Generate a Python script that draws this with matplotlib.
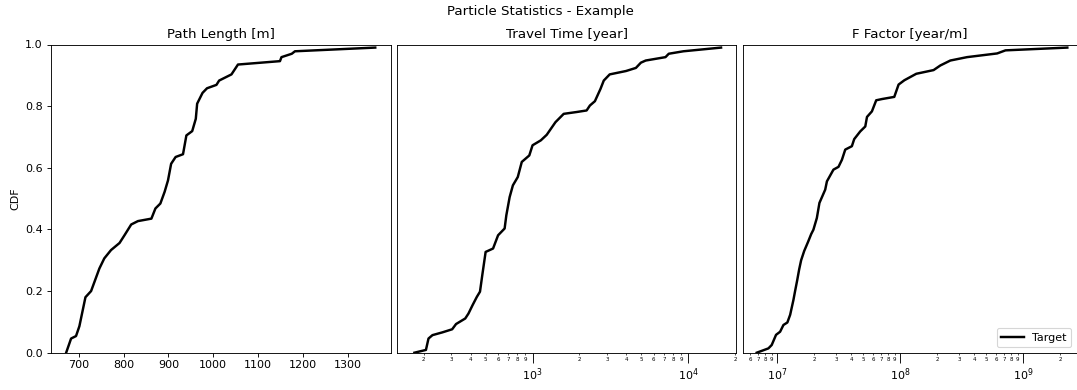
import matplotlib
matplotlib.use("Agg")
import matplotlib.pyplot as plt
from matplotlib.ticker import FuncFormatter, LogLocator
import numpy as np

# CDF curves
path_length = [672, 683, 694, 701.5, 715, 727.6, 746, 757, 772, 791,
               802, 817, 832, 862, 871, 882, 891.5, 899, 906, 916,
               932.5, 940, 953, 961, 964, 976, 986, 1007, 1013, 1040.5,
               1055, 1148.6, 1152, 1175, 1182, 1361]
path_cdf = [0, 0.046, 0.054, 0.086, 0.18, 0.20, 0.273, 0.306, 0.333, 0.356,
            0.381, 0.416, 0.427, 0.435, 0.468, 0.484, 0.522, 0.559, 0.613, 0.635,
            0.644, 0.705, 0.719, 0.759, 0.808, 0.843, 0.858, 0.869, 0.883, 0.903,
            0.935, 0.946, 0.959, 0.970, 0.978, 0.99]

travel_time = [174.6, 207, 215, 228, 264, 305, 323, 370, 388, 412,
               439, 460, 476, 500, 558, 601, 662, 679, 713, 748,
               804, 853, 953, 1000, 1130, 1233, 1403, 1585, 1923, 2223,
               2333, 2512, 2729, 2864, 3126, 3981, 4603, 4955, 5321, 7129,
               7482, 9290, 16200]
travel_cdf = [0, 0.009, 0.046, 0.057, 0.066, 0.076, 0.093, 0.111, 0.127, 0.154,
              0.181, 0.198, 0.252, 0.327, 0.338, 0.381, 0.403, 0.446, 0.505, 0.543,
              0.570, 0.619, 0.640, 0.673, 0.689, 0.707, 0.748, 0.775, 0.781, 0.786,
              0.802, 0.816, 0.856, 0.883, 0.903, 0.914, 0.924, 0.941, 0.948, 0.959,
              0.970, 0.978, 0.99]

f_factor = [6.79e6, 8.45e6, 8.99e6, 9.75e6, 1.052e7, 1.12e7, 1.205e7, 1.27e7, 1.35e7,
            1.393e7, 1.449e7, 1.503e7, 1.56e7, 1.652e7, 1.778e7, 1.884e7,
            1.963e7, 2.094e7, 2.198e7, 2.449e7, 2.529e7, 2.858e7, 3.141e7, 3.35e7, 3.565e7, 4.036e7,
            4.217e7, 4.721e7, 5.188e7, 5.358e7, 5.875e7, 6.368e7, 7.096e7, 8.933e7, 9.683e7, 1.079e8,
            1.349e8, 1.866e8, 2.118e8, 2.553e8, 3.491e8, 6.138e8, 7.178e8, 2.286e9]
f_cdf = [0, 0.014, 0.025, 0.058, 0.068, 0.09, 0.098, 0.123, 0.171,
         0.20, 0.235, 0.27, 0.30, 0.33, 0.36, 0.385,
         0.399, 0.437, 0.486, 0.529, 0.556, 0.594, 0.603, 0.626, 0.659, 0.670,
         0.693, 0.718, 0.734, 0.765, 0.783, 0.819, 0.823, 0.830, 0.870, 0.884,
         0.905, 0.917, 0.932, 0.948, 0.959, 0.971, 0.981, 0.99]

titles = ["Path Length [m]", "Travel Time [year]", "F Factor [year/m]"]

W, H, DPI = 1077, 390, 80
fig = plt.figure(figsize=(W / DPI, H / DPI), dpi=DPI)

bottom = 37.3 / H
height = 308.2 / H
ax1 = fig.add_axes([50.7 / W, bottom, 340 / W, height])
ax2 = fig.add_axes([397 / W, bottom, 339 / W, height])
ax3 = fig.add_axes([742.7 / W, bottom, 334.3 / W, height])


def minor_label(x, pos):
    coeff = x / 10 ** np.floor(np.log10(x) + 1e-9)
    return "%d" % round(coeff)


ax1.plot(path_length, path_cdf, color="black", lw=2.2)
ax2.plot(travel_time, travel_cdf, color="black", lw=2.2)
ax3.plot(f_factor, f_cdf, color="black", lw=2.2, label="Target")

for ax, t in zip([ax1, ax2, ax3], titles):
    ax.set_ylim(0, 1)
    ax.set_title(t)

ax1.set_ylabel("CDF")

for ax in [ax2, ax3]:
    ax.set_xscale("log")
    ax.xaxis.set_minor_locator(LogLocator(base=10, subs=np.arange(2, 10)))
    ax.xaxis.set_minor_formatter(FuncFormatter(minor_label))
    ax.tick_params(axis="x", which="minor", labelsize=5, length=2, pad=2)
    ax.tick_params(axis="x", which="major", length=9, pad=3)
    ax.tick_params(axis="y", left=False, labelleft=False)

ax2.set_xlim(135, 2.02e4)
ax3.set_xlim(5.22e6, 2.74e9)

ax3.legend(loc="lower right")

fig.suptitle("Particle Statistics - Example", x=540 / W, y=1 - 5 / H, va="top")

fig.savefig("out.png", dpi=DPI)
